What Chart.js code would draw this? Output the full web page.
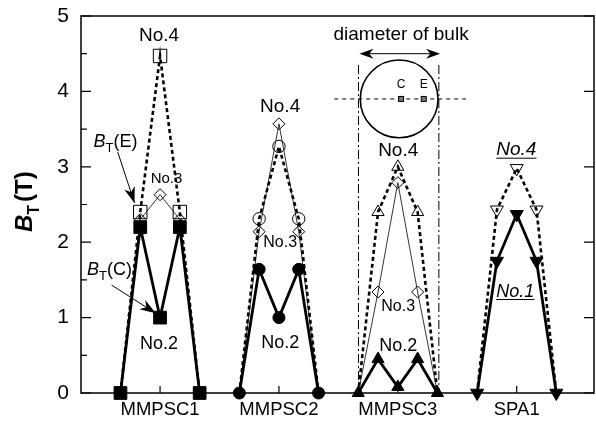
<!DOCTYPE html>
<html><head><meta charset="utf-8">
<script src="https://cdn.jsdelivr.net/npm/chart.js@4.4.1/dist/chart.umd.min.js"></script>
<style>html,body{margin:0;padding:0;background:#fff;overflow:hidden}canvas{display:block}</style>
</head><body><canvas id="c" width="604" height="425" style="width:604px;height:425px"></canvas>
<script>
const FONT = '"Liberation Sans", Arial, Helvetica, sans-serif';

// categories (samples) and measurement positions across each sample (edge, between, centre, between, edge)
const categories = ['MMPSC1', 'MMPSC2', 'MMPSC3', 'SPA1'];
const positions = [-1, -0.5, 0, 0.5, 1];
const yTicks = [0, 1, 2, 3, 4, 5];

// trapped field B_T (T)
const mmpsc1_No2 = [0, 2.2, 1.0, 2.2, 0];     // B_T(C), filled squares
const mmpsc1_No4 = [0, 2.4, 4.47, 2.4, 0];    // B_T(E), open squares
const mmpsc1_No3 = [0, 2.3, 2.63, 2.3, 0];    // open diamonds
const mmpsc2_No2 = [0, 1.64, 1.0, 1.64, 0];
const mmpsc2_No4 = [0, 2.31, 3.27, 2.31, 0];
const mmpsc2_No3 = [0, 2.14, 3.57, 2.14, 0];
const mmpsc3_No2 = [0, 0.45, 0.08, 0.45, 0];
const mmpsc3_No4 = [0, 2.4, 3.0, 2.4, 0];
const mmpsc3_No3 = [0, 1.34, 2.79, 1.34, 0];
const spa1_No1 = [0, 1.75, 2.37, 1.75, 0];
const spa1_No4 = [0, 2.43, 2.98, 2.43, 0];

const HALF = 0.333; // half-width of a sample on the x scale (category units)

function pts(g, vals) {
  return vals.map((v, i) => ({ x: g + 1 + positions[i] * HALF, y: v }));
}

const LINE = {
  thick: { borderWidth: 2.8, borderDash: [] },
  dot: { borderWidth: 2.6, borderDash: [4, 3] },
  thin: { borderWidth: 0.8, borderDash: [] }
};

const seriesDefs = [
  { g: 0, v: mmpsc1_No2, st: 'rect', fill: true, line: 'thick', r: 9 },
  { g: 1, v: mmpsc2_No2, st: 'circle', fill: true, line: 'thick', r: 6 },
  { g: 2, v: mmpsc3_No2, st: 'triangle', fill: true, line: 'thick', r: 7 },
  { g: 3, v: spa1_No1, st: 'triangle', rot: 180, fill: true, line: 'thick', r: 7.5 },
  { g: 0, v: mmpsc1_No4, st: 'rect', fill: false, line: 'dot', r: 9.5 },
  { g: 1, v: mmpsc2_No4, st: 'circle', fill: false, line: 'dot', r: 6.2 },
  { g: 2, v: mmpsc3_No4, st: 'triangle', fill: false, line: 'dot', r: 7 },
  { g: 3, v: spa1_No4, st: 'triangle', rot: 180, fill: false, line: 'dot', r: 7.5 },
  { g: 0, v: mmpsc1_No3, st: 'rectRot', fill: false, line: 'thin', r: 6 },
  { g: 1, v: mmpsc2_No3, st: 'rectRot', fill: false, line: 'thin', r: 6 },
  { g: 2, v: mmpsc3_No3, st: 'rectRot', fill: false, line: 'thin', r: 6 }
];

const datasets = seriesDefs.map(d => ({
  data: pts(d.g, d.v),
  borderColor: '#000',
  borderWidth: LINE[d.line].borderWidth,
  borderDash: LINE[d.line].borderDash,
  tension: 0,
  clip: false,
  pointStyle: d.st,
  pointRotation: d.rot || 0,
  pointRadius: d.fill ? d.r : (c => (c.raw && c.raw.y === 0) ? 0 : d.r),
  pointBackgroundColor: d.fill ? '#000' : 'rgba(0,0,0,0)',
  pointBorderColor: '#000',
  pointBorderWidth: 1,
  fill: false
}));

// annotation texts (data coordinates)
const noteLabels = [
  { t: 'No.4', x: 0.992, y: 4.74, s: 19 },
  { t: 'No.3', x: 1.054, y: 2.845, s: 15 },
  { t: 'No.2', x: 0.992, y: 0.656, s: 18 },
  { t: 'No.4', x: 2.01, y: 3.80, s: 19 },
  { t: 'No.3', x: 2.01, y: 2.0, s: 16 },
  { t: 'No.2', x: 2.01, y: 0.66, s: 18 },
  { t: 'No.4', x: 3.003, y: 3.21, s: 19 },
  { t: 'No.3', x: 3.003, y: 1.14, s: 16 },
  { t: 'No.2', x: 3.003, y: 0.62, s: 18 },
  { t: 'No.4', x: 3.997, y: 3.22, s: 19, it: true, ul: true },
  { t: 'No.1', x: 3.988, y: 1.34, s: 18, it: true, ul: true }
];

const symLabels = [
  { sub: 'E', x: 0.44, y: 3.26, ax1: 0.644, ay1: 3.196, ax2: 0.785, ay2: 2.52 },
  { sub: 'C', x: 0.385, y: 1.565, ax1: 0.592, ay1: 1.432, ax2: 0.964, ay2: 1.057 }
];

function arrowHead(ctx, x1, y1, x2, y2, len, hw) {
  const a = Math.atan2(y2 - y1, x2 - x1);
  ctx.beginPath();
  ctx.moveTo(x2, y2);
  ctx.lineTo(x2 - len * Math.cos(a) + hw * Math.sin(a), y2 - len * Math.sin(a) - hw * Math.cos(a));
  ctx.lineTo(x2 - 0.7 * len * Math.cos(a), y2 - 0.7 * len * Math.sin(a));
  ctx.lineTo(x2 - len * Math.cos(a) - hw * Math.sin(a), y2 - len * Math.sin(a) + hw * Math.cos(a));
  ctx.closePath();
  ctx.fill();
}

const framePlugin = {
  id: 'frame',
  beforeDatasetsDraw(chart) {
    const { ctx, chartArea: a, scales } = chart;
    const xs = scales.x, ys = scales.y;
    ctx.save();
    ctx.strokeStyle = '#000';
    ctx.lineWidth = 1.5;
    ctx.strokeRect(a.left, a.top, a.right - a.left, a.bottom - a.top);
    ctx.lineWidth = 1.2;
    ctx.beginPath();
    for (let v = 0; v <= 5.001; v += 0.5) {
      const y = ys.getPixelForValue(v);
      const major = Math.abs(v - Math.round(v)) < 1e-6;
      ctx.moveTo(a.left, y); ctx.lineTo(a.left + (major ? 10 : 6), y);
      if (major) { ctx.moveTo(a.right, y); ctx.lineTo(a.right - 10, y); }
    }
    categories.forEach((c, i) => {
      const x = xs.getPixelForValue(i + 1);
      ctx.moveTo(x, a.bottom); ctx.lineTo(x, a.bottom - 7);
    });
    ctx.stroke();

    // inset: bulk diagram
    const cx = xs.getPixelForValue(3.011), cy = ys.getPixelForValue(3.90);
    const r = xs.getPixelForValue(3 + 0.327) - xs.getPixelForValue(3);
    ctx.lineWidth = 1;
    ctx.setLineDash([9, 3, 2, 3]);
    ctx.beginPath();
    [2.669, 3.345].forEach(v => {
      const x = xs.getPixelForValue(v);
      ctx.moveTo(x, ys.getPixelForValue(4.35));
      ctx.lineTo(x, a.bottom);
    });
    ctx.stroke();
    ctx.setLineDash([4, 4]);
    ctx.beginPath();
    ctx.moveTo(xs.getPixelForValue(2.465), cy);
    ctx.lineTo(xs.getPixelForValue(3.574), cy);
    ctx.stroke();
    ctx.setLineDash([]);
    ctx.lineWidth = 1.6;
    ctx.beginPath();
    ctx.arc(cx, cy, r, 0, Math.PI * 2);
    ctx.stroke();
    ctx.restore();
  },
  afterDatasetsDraw(chart) {
    const { ctx, scales } = chart;
    const xs = scales.x, ys = scales.y;
    const X = v => xs.getPixelForValue(v), Y = v => ys.getPixelForValue(v);
    ctx.save();
    ctx.fillStyle = '#000';
    ctx.strokeStyle = '#000';
    noteLabels.forEach(l => {
      ctx.font = (l.it ? 'italic ' : '') + l.s + 'px ' + FONT;
      ctx.textAlign = 'center';
      ctx.textBaseline = 'middle';
      ctx.fillText(l.t, X(l.x), Y(l.y));
      if (l.ul) {
        const w = ctx.measureText(l.t).width;
        ctx.lineWidth = 1;
        ctx.beginPath();
        ctx.moveTo(X(l.x) - w / 2, Y(l.y) + l.s * 0.42);
        ctx.lineTo(X(l.x) + w / 2, Y(l.y) + l.s * 0.42);
        ctx.stroke();
      }
    });
    symLabels.forEach(s => {
      let x = X(s.x); const y = Y(s.y);
      ctx.textAlign = 'left'; ctx.textBaseline = 'alphabetic';
      ctx.font = 'italic 18px ' + FONT;
      ctx.fillText('B', x, y); x += ctx.measureText('B').width;
      ctx.font = '13px ' + FONT;
      ctx.fillText('T', x, y + 5); x += ctx.measureText('T').width;
      ctx.font = '18px ' + FONT;
      ctx.fillText('(' + s.sub + ')', x, y);
      const x1 = X(s.ax1), y1 = Y(s.ay1), x2 = X(s.ax2), y2 = Y(s.ay2);
      ctx.lineWidth = 1;
      ctx.beginPath(); ctx.moveTo(x1, y1); ctx.lineTo(x2, y2); ctx.stroke();
      arrowHead(ctx, x1, y1, x2, y2, 16, 5.5);
    });
    const cy = Y(3.90);
    [3.027, 3.218].forEach((v, i) => {
      const x = X(v);
      ctx.fillStyle = '#777';
      ctx.fillRect(x - 2.5, cy - 2.5, 5, 5);
      ctx.lineWidth = 1;
      ctx.strokeRect(x - 2.5, cy - 2.5, 5, 5);
      ctx.fillStyle = '#000';
      ctx.font = '12px ' + FONT;
      ctx.textAlign = 'center'; ctx.textBaseline = 'middle';
      ctx.fillText(i === 0 ? 'C' : 'E', x, Y(4.085));
    });
    const ay = Y(4.50), axL = X(2.677), axR = X(3.356);
    ctx.lineWidth = 1;
    ctx.beginPath(); ctx.moveTo(axL + 6, ay); ctx.lineTo(axR - 6, ay); ctx.stroke();
    arrowHead(ctx, axR, ay, axL, ay, 14, 5);
    arrowHead(ctx, axL, ay, axR, ay, 14, 5);
    ctx.font = '19px ' + FONT;
    ctx.textAlign = 'center'; ctx.textBaseline = 'middle';
    ctx.fillText('diameter of bulk', X(3.027), Y(4.75));

    // y-axis title B_T (T)
    ctx.save();
    ctx.translate(32, 232);
    ctx.rotate(-Math.PI / 2);
    ctx.textAlign = 'left'; ctx.textBaseline = 'alphabetic';
    let tx = 0;
    ctx.font = 'bold italic 24px ' + FONT;
    ctx.fillText('B', tx, 0); tx += ctx.measureText('B').width;
    ctx.font = 'bold 16px ' + FONT;
    ctx.fillText('T', tx, 7); tx += ctx.measureText('T').width + 3;
    ctx.font = 'bold 24px ' + FONT;
    ctx.fillText('(T)', tx, 0);
    ctx.restore();
    ctx.restore();
  }
};

new Chart(document.getElementById('c'), {
  type: 'line',
  data: { datasets },
  options: {
    responsive: false,
    maintainAspectRatio: false,
    animation: false,
    events: [],
    layout: { padding: { left: 0, top: 16, right: 2, bottom: 0 } },
    plugins: { legend: { display: false }, tooltip: { enabled: false } },
    scales: {
      x: {
        type: 'linear',
        min: 0.335, max: 4.65,
        grid: { display: false, drawTicks: false },
        border: { display: false },
        afterBuildTicks: s => { s.ticks = categories.map((c, i) => ({ value: i + 1 })); },
        afterFit: s => { s.height = 32; s.paddingLeft = 0; s.paddingRight = 0; },
        ticks: {
          autoSkip: false, maxRotation: 0, padding: 6,
          color: '#000', font: { family: FONT, size: 18.5 },
          callback: v => categories[Math.round(v) - 1]
        }
      },
      y: {
        min: 0, max: 5,
        grid: { display: false, drawTicks: false },
        border: { display: false },
        afterBuildTicks: s => { s.ticks = yTicks.map(v => ({ value: v })); },
        afterFit: s => { s.width = 81; s.paddingTop = 0; s.paddingBottom = 0; },
        ticks: { padding: 12, color: '#000', font: { family: FONT, size: 21 } }
      }
    }
  },
  plugins: [framePlugin]
});
</script>
</body></html>
